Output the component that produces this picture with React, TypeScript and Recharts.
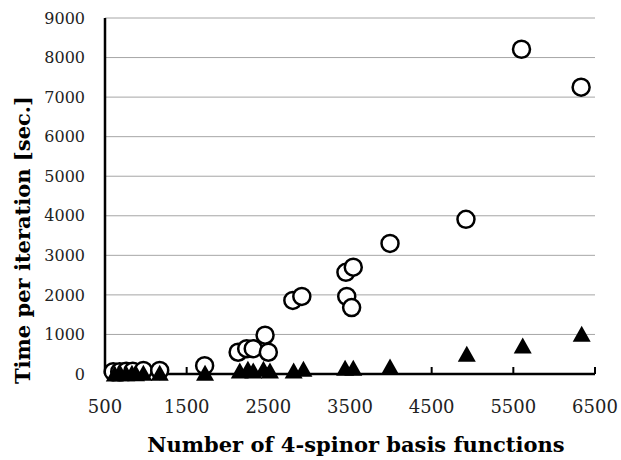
import React from 'react';
import { ScatterChart, Scatter, XAxis, YAxis, CartesianGrid, Label } from 'recharts';

// open circles: time per iteration, method A
const circleBasis = [600, 680, 760, 840, 970, 1170, 1720, 2130, 2235, 2315, 2460, 2500, 2800, 2910, 3450, 3540, 3460, 3520, 3990, 4920, 5600, 6330];
const circleTime = [60, 60, 70, 70, 90, 90, 210, 550, 640, 640, 980, 550, 1860, 1960, 2570, 2700, 1960, 1680, 3300, 3910, 8210, 7250];

// filled triangles: time per iteration, method B
const triBasis = [620, 690, 760, 830, 880, 970, 1170, 1725, 2150, 2250, 2315, 2440, 2520, 2810, 2930, 3440, 3540, 3990, 4930, 5615, 6337];
const triTime = [10, 20, 20, 30, 20, 30, 30, 30, 90, 130, 90, 130, 90, 90, 130, 157, 157, 190, 511, 721, 1018];

const xTicks = [500, 1500, 2500, 3500, 4500, 5500, 6500];
const yTicks = [0, 1000, 2000, 3000, 4000, 5000, 6000, 7000, 8000, 9000];

const circleData = circleBasis.map((n, i) => ({ n, t: circleTime[i] }));
const triData = triBasis.map((n, i) => ({ n, t: triTime[i] }));

const serif = '"DejaVu Serif", serif';

const OpenCircle = (props: any) => {
  const { cx, cy } = props;
  return <circle cx={cx} cy={cy} r={8.5} fill="#fff" stroke="#000" strokeWidth={2.5} />;
};

const Tri = (props: any) => {
  const { cx, cy } = props;
  const w = 18;
  const h = 16;
  const pts = `${cx},${cy - h / 2} ${cx - w / 2},${cy + h / 2} ${cx + w / 2},${cy + h / 2}`;
  return <polygon points={pts} fill="#000" />;
};

const XTick = (props: any) => {
  const { x, y, payload } = props;
  return (
    <g>
      <line x1={x} y1={y} x2={x} y2={y - 7} stroke="#000" strokeWidth={2} />
      <text x={x} y={y + 39} textAnchor="middle" fontFamily={serif} fontSize={18} fill="#222">
        {payload.value}
      </text>
    </g>
  );
};

export default function App() {
  return (
    <div style={{ position: 'absolute', left: 0, top: 0, width: 621, height: 460, background: '#fff' }}>
      <ScatterChart width={621} height={460} margin={{ top: 18, right: 26, left: 0, bottom: 0 }}>
        <CartesianGrid vertical={false} stroke="#a6a6a6" strokeWidth={1} />
        <XAxis
          type="number"
          dataKey="n"
          domain={[500, 6500]}
          ticks={xTicks}
          interval={0}
          height={86}
          axisLine={{ stroke: '#000', strokeWidth: 2.5 }}
          tickLine={false}
          tickSize={0}
          tickMargin={0}
          tick={<XTick />}
        >
          <Label
            content={(p: any) => {
              const vb = p.viewBox;
              return (
                <text x={vb.x + vb.width / 2 + 6} y={452} textAnchor="middle" fontFamily={serif} fontWeight="bold" fontSize={21} fill="#000">
                  Number of 4-spinor basis functions
                </text>
              );
            }}
          />
        </XAxis>
        <YAxis
          type="number"
          dataKey="t"
          domain={[0, 9000]}
          ticks={yTicks}
          interval={0}
          width={105}
          axisLine={{ stroke: '#000', strokeWidth: 2.5 }}
          tickLine={false}
          tickSize={0}
          tickMargin={20}
          tick={{ fontFamily: serif, fontSize: 16, fill: '#222' }}
        >
          <Label
            content={() => (
              <text
                x={30}
                y={240}
                transform="rotate(-90 30 240)"
                textAnchor="middle"
                fontFamily={serif}
                fontWeight="bold"
                fontSize={21}
                fill="#000"
              >
                Time per iteration [sec.]
              </text>
            )}
          />
        </YAxis>
        <Scatter data={circleData} shape={<OpenCircle />} isAnimationActive={false} />
        <Scatter data={triData} shape={<Tri />} isAnimationActive={false} />
      </ScatterChart>
    </div>
  );
}
